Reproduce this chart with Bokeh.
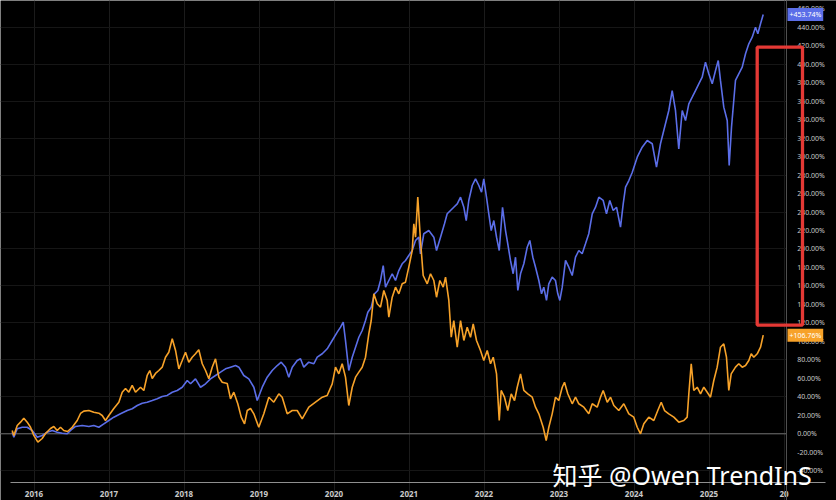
from bokeh.plotting import figure
from bokeh.models import (Range1d, FixedTicker, PrintfTickFormatter, Span, Label,
                          BoxAnnotation)
from bokeh.embed import file_html
from bokeh.resources import INLINE

# ---------------- data ----------------
blue_year = [2015.709, 2015.731, 2015.776, 2015.843, 2015.909, 2015.976, 2016.043, 2016.109, 2016.176, 2016.243,
             2016.309, 2016.376, 2016.443, 2016.487, 2016.553, 2016.643, 2016.731, 2016.797, 2016.864, 2016.931,
             2016.997, 2017.064, 2017.153, 2017.243, 2017.309, 2017.376, 2017.443, 2017.509, 2017.576, 2017.643,
             2017.709, 2017.776, 2017.843, 2017.909, 2017.976, 2018.043, 2018.087, 2018.153, 2018.220, 2018.287,
             2018.353, 2018.420, 2018.487, 2018.553, 2018.620, 2018.687, 2018.731, 2018.797, 2018.864, 2018.931,
             2018.976, 2019.043, 2019.109, 2019.176, 2019.243, 2019.296, 2019.353, 2019.397, 2019.443, 2019.509,
             2019.553, 2019.597, 2019.664, 2019.731, 2019.776, 2019.843, 2019.909, 2019.976, 2020.043, 2020.087,
             2020.123, 2020.153, 2020.197, 2020.243, 2020.287, 2020.331, 2020.376, 2020.420, 2020.451, 2020.496,
             2020.540, 2020.584, 2020.620, 2020.656, 2020.687, 2020.731, 2020.776, 2020.820, 2020.864, 2020.909,
             2020.953, 2020.997, 2021.043, 2021.087, 2021.131, 2021.153, 2021.197, 2021.264, 2021.331, 2021.367,
             2021.420, 2021.473, 2021.509, 2021.553, 2021.597, 2021.643, 2021.687, 2021.731, 2021.763, 2021.797,
             2021.843, 2021.887, 2021.931, 2021.967, 2021.997, 2022.033, 2022.064, 2022.096, 2022.131, 2022.167,
             2022.203, 2022.247, 2022.287, 2022.317, 2022.353, 2022.389, 2022.420, 2022.451, 2022.487, 2022.531,
             2022.576, 2022.611, 2022.651, 2022.687, 2022.731, 2022.767, 2022.797, 2022.833, 2022.864, 2022.909,
             2022.953, 2022.984, 2023.011, 2023.043, 2023.087, 2023.131, 2023.176, 2023.220, 2023.264, 2023.309,
             2023.353, 2023.397, 2023.443, 2023.487, 2023.531, 2023.589, 2023.633, 2023.677, 2023.723, 2023.767,
             2023.820, 2023.856, 2023.887, 2023.931, 2023.976, 2024.043, 2024.109, 2024.176, 2024.243, 2024.300,
             2024.353, 2024.397, 2024.464, 2024.509, 2024.553, 2024.597, 2024.643, 2024.687, 2024.731, 2024.776,
             2024.820, 2024.864, 2024.909, 2024.953, 2024.997, 2025.043, 2025.087, 2025.123, 2025.153, 2025.197,
             2025.243, 2025.269, 2025.300, 2025.353, 2025.397, 2025.443, 2025.487, 2025.531, 2025.576, 2025.620,
             2025.651, 2025.687, 2025.723]
blue_pct = [1.7, -3.7, 5.4, 7.1, 7.1, 3.6, -3.7, -1.8, 1.7, 3.6,
            1.7, 0.6, 0.0, 3.6, 7.9, 9.0, 7.9, 9.0, 7.1, 10.8,
            14.4, 18.0, 21.6, 25.2, 27.1, 30.6, 33.1, 34.2, 36.0, 37.9,
            40.4, 41.5, 45.0, 46.9, 50.4, 57.7, 54.1, 59.5, 50.4, 54.1,
            59.5, 63.1, 66.7, 70.3, 72.1, 73.9, 72.1, 63.1, 59.5, 50.4,
            36.0, 50.4, 61.3, 68.5, 73.9, 77.5, 72.1, 61.3, 72.1, 79.3,
            81.2, 72.1, 77.5, 75.8, 82.9, 86.6, 92.0, 101.0, 110.0, 115.4,
            120.8, 101.0, 68.5, 82.9, 93.7, 104.5, 111.8, 122.6, 131.6, 137.0,
            151.5, 155.1, 165.9, 182.1, 158.7, 165.9, 173.2, 165.9, 176.7, 184.0,
            187.6, 193.0, 198.4, 209.2, 212.8, 194.8, 216.5, 220.0, 212.8, 198.4,
            212.8, 227.3, 238.1, 241.7, 245.2, 248.9, 256.1, 245.2, 230.8, 252.5,
            268.7, 276.0, 268.7, 261.5, 276.0, 256.1, 238.1, 220.0, 230.8, 212.8,
            198.4, 245.2, 220.0, 205.6, 187.6, 173.2, 191.1, 155.1, 173.2, 184.0,
            201.9, 209.2, 191.1, 180.3, 165.9, 151.5, 158.7, 144.3, 162.3, 169.5,
            165.9, 151.5, 144.3, 158.7, 187.6, 180.3, 171.3, 191.1, 198.4, 194.8,
            205.6, 216.5, 238.1, 245.2, 256.1, 252.5, 238.1, 252.5, 241.7, 245.2,
            223.6, 248.9, 266.9, 274.1, 282.8, 299.4, 310.2, 317.4, 313.9, 288.5,
            313.9, 328.2, 349.9, 371.5, 349.9, 308.4, 349.9, 339.1, 357.1, 364.3,
            371.5, 378.8, 385.9, 402.2, 389.6, 378.8, 393.2, 404.0, 382.4, 353.5,
            339.1, 290.4, 331.8, 382.4, 389.6, 396.8, 411.3, 422.1, 429.2, 440.0,
            432.9, 443.7, 453.74]

orange_year = [2015.709, 2015.731, 2015.776, 2015.820, 2015.864, 2015.909, 2015.953, 2015.997, 2016.051, 2016.109,
               2016.153, 2016.220, 2016.264, 2016.309, 2016.353, 2016.397, 2016.447, 2016.509, 2016.576, 2016.620,
               2016.664, 2016.731, 2016.797, 2016.864, 2016.909, 2016.953, 2016.997, 2017.064, 2017.131, 2017.176,
               2017.220, 2017.264, 2017.309, 2017.353, 2017.420, 2017.464, 2017.509, 2017.544, 2017.576, 2017.620,
               2017.664, 2017.709, 2017.753, 2017.797, 2017.843, 2017.887, 2017.931, 2017.976, 2018.020, 2018.064,
               2018.109, 2018.153, 2018.197, 2018.243, 2018.287, 2018.331, 2018.376, 2018.420, 2018.464, 2018.509,
               2018.576, 2018.620, 2018.664, 2018.717, 2018.763, 2018.807, 2018.843, 2018.887, 2018.931, 2018.997,
               2019.064, 2019.131, 2019.197, 2019.264, 2019.309, 2019.376, 2019.443, 2019.509, 2019.576, 2019.664,
               2019.753, 2019.843, 2019.909, 2019.976, 2020.020, 2020.064, 2020.109, 2020.153, 2020.197, 2020.243,
               2020.287, 2020.331, 2020.376, 2020.420, 2020.464, 2020.496, 2020.531, 2020.576, 2020.620, 2020.664,
               2020.709, 2020.731, 2020.776, 2020.820, 2020.864, 2020.909, 2020.953, 2020.997, 2021.043, 2021.064,
               2021.087, 2021.117, 2021.153, 2021.189, 2021.243, 2021.287, 2021.331, 2021.367, 2021.411, 2021.456,
               2021.487, 2021.531, 2021.563, 2021.597, 2021.643, 2021.687, 2021.731, 2021.776, 2021.820, 2021.856,
               2021.900, 2021.953, 2021.997, 2022.043, 2022.087, 2022.123, 2022.167, 2022.203, 2022.229, 2022.273,
               2022.317, 2022.363, 2022.407, 2022.443, 2022.487, 2022.531, 2022.584, 2022.643, 2022.687, 2022.731,
               2022.789, 2022.829, 2022.864, 2022.909, 2022.953, 2022.997, 2023.043, 2023.073, 2023.117, 2023.176,
               2023.220, 2023.264, 2023.331, 2023.397, 2023.443, 2023.509, 2023.553, 2023.589, 2023.643, 2023.687,
               2023.731, 2023.797, 2023.864, 2023.931, 2023.997, 2024.043, 2024.087, 2024.131, 2024.197, 2024.264,
               2024.317, 2024.363, 2024.407, 2024.464, 2024.531, 2024.597, 2024.664, 2024.709, 2024.731, 2024.763,
               2024.797, 2024.843, 2024.887, 2024.931, 2024.976, 2025.020, 2025.064, 2025.109, 2025.153, 2025.197,
               2025.233, 2025.264, 2025.296, 2025.353, 2025.397, 2025.443, 2025.487, 2025.531, 2025.563, 2025.597,
               2025.643, 2025.687, 2025.723]
orange_pct = [3.6, -1.8, 9.0, 12.6, 16.9, 12.6, 7.1, -1.8, -9.1, -5.1,
              0.3, 5.7, 7.9, 3.6, 7.1, 3.6, 2.5, 7.1, 14.4, 22.0,
              24.5, 25.2, 23.4, 22.3, 19.8, 14.4, 19.8, 27.4, 34.2, 45.0,
              49.0, 45.0, 52.3, 45.0, 50.4, 46.9, 63.1, 68.5, 59.8, 65.3,
              68.5, 72.1, 82.9, 88.3, 102.8, 90.2, 70.3, 79.3, 88.3, 77.5,
              82.9, 86.6, 90.9, 75.8, 68.5, 59.5, 72.1, 81.2, 61.3, 55.8,
              54.4, 37.9, 45.0, 32.5, 18.0, 10.8, 25.2, 27.4, 21.6, 7.1,
              21.6, 39.6, 34.2, 43.3, 39.6, 21.6, 25.2, 25.2, 16.2, 28.8,
              34.2, 39.6, 41.5, 54.1, 72.1, 64.9, 75.8, 61.3, 30.6, 50.4,
              61.3, 66.7, 72.1, 82.9, 108.2, 122.6, 151.5, 140.7, 137.0, 155.1,
              144.3, 126.2, 147.8, 158.7, 151.5, 162.3, 164.1, 180.3, 198.4, 227.3,
              212.8, 256.1, 209.2, 171.3, 162.3, 173.2, 165.9, 147.8, 165.9, 158.7,
              169.5, 144.3, 104.5, 122.6, 93.7, 122.6, 101.0, 115.4, 104.5, 119.0,
              101.0, 90.2, 79.3, 90.2, 75.8, 82.9, 64.9, 14.4, 46.9, 39.6,
              25.2, 43.3, 36.0, 50.4, 64.9, 46.9, 43.3, 39.6, 28.8, 21.6,
              7.1, -7.3, 7.1, 21.6, 39.6, 36.0, 50.4, 55.8, 43.3, 32.5,
              39.6, 32.5, 28.8, 21.6, 32.5, 28.8, 39.6, 46.9, 34.2, 39.6,
              30.6, 25.2, 32.5, 21.6, 18.0, 7.1, 0.0, 10.8, 18.0, 14.4,
              25.2, 34.2, 25.2, 21.6, 18.0, 12.6, 14.4, 18.0, 43.3, 75.8,
              46.9, 50.4, 43.3, 50.4, 45.0, 39.6, 57.7, 72.1, 93.7, 97.4,
              82.9, 46.9, 64.9, 72.1, 75.8, 72.1, 73.9, 79.3, 86.6, 82.9,
              86.6, 93.7, 106.76]

year_ticks = [2016, 2017, 2018, 2019, 2020, 2021, 2022, 2023, 2024, 2025, 2026]
year_labels = ["2016", "2017", "2018", "2019", "2020", "2021", "2022", "2023", "2024", "2025", "20"]
pct_ticks = list(range(-40, 461, 20))
pct_grid = list(range(-40, 461, 40))
highlight_top, highlight_bottom = 418.4, 117.7
watermark = "知乎 @Owen TrendInS"

BLUE = "#5b6ee8"
ORANGE = "#f7a229"
BG = "#000000"
TXT = "#c9c9c9"

# visible window of the chart (time axis in years, price axis in %)
X0, X1 = 2015.553, 2026.700
Y0, Y1 = -72.19, 468.94
PRICE_AXIS_AT = 2026.029     # where the price scale begins
TIME_AXIS_AT = -53.0         # where the time scale sits

# ---------------- figure ----------------
p = figure(frame_width=836, frame_height=500, title=None,
           x_range=Range1d(X0, X1), y_range=Range1d(Y0, Y1),
           y_axis_location="right", output_backend="svg", toolbar_location=None,
           min_border=0, background_fill_color=BG, border_fill_color=BG,
           outline_line_color=None)

# time axis
xa = p.xaxis[0]
xa.fixed_location = TIME_AXIS_AT
xa.bounds = (2015.69, 2026.55)
xa.ticker = FixedTicker(ticks=year_ticks)
xa.major_label_overrides = {t: l for t, l in zip(year_ticks, year_labels)}
xa.axis_line_color = "#8f8f8f"
xa.major_tick_line_color = None
xa.minor_tick_line_color = None
xa.major_label_text_color = TXT
xa.major_label_text_font = "Noto Sans"
xa.major_label_text_font_size = "8px"
xa.major_label_text_font_style = "bold"
xa.major_label_standoff = 2

# price axis
ya = p.yaxis[0]
ya.fixed_location = PRICE_AXIS_AT
ya.ticker = FixedTicker(ticks=pct_ticks)
ya.formatter = PrintfTickFormatter(format="%.2f%%")
ya.axis_line_color = "#505050"
ya.major_tick_line_color = None
ya.minor_tick_line_color = None
ya.major_label_text_color = TXT
ya.major_label_text_font = "Noto Sans"
ya.major_label_text_font_size = "7px"
ya.major_label_standoff = 5

p.xgrid.ticker = FixedTicker(ticks=year_ticks)
p.ygrid.ticker = FixedTicker(ticks=pct_grid)
p.xgrid.grid_line_color = "#1b1b1b"
p.ygrid.grid_line_color = "#161616"

# zero line
p.add_layout(Span(location=0, dimension="width", line_color="#6e6e6e", line_width=1,
                  level="underlay"))

# mask the price-scale area (hides grid and zero line there)
p.add_layout(BoxAnnotation(left=PRICE_AXIS_AT, fill_color=BG, fill_alpha=1, line_alpha=0,
                           level="glyph"))

# series
p.line(x=blue_year, y=blue_pct, line_color=BLUE, line_width=1.6)
p.line(x=orange_year, y=orange_pct, line_color=ORANGE, line_width=1.6)

# last-value tags on the price axis
p.add_layout(Label(x=787, y=blue_pct[-1], x_units="screen", y_units="data",
                   text=f"+{blue_pct[-1]:.2f}%", text_color="white", text_font="Noto Sans",
                   text_font_size="7px", text_baseline="middle",
                   background_fill_color=BLUE, padding=2))
p.add_layout(Label(x=787, y=orange_pct[-1], x_units="screen", y_units="data",
                   text=f"+{orange_pct[-1]:.2f}%", text_color="white", text_font="Noto Sans",
                   text_font_size="7px", text_baseline="middle",
                   background_fill_color=ORANGE, padding=2))

# red highlight box
p.add_layout(BoxAnnotation(left=756.7, right=802, left_units="screen", right_units="screen",
                           top=highlight_top, bottom=highlight_bottom,
                           fill_alpha=0, line_color="#e53935", line_alpha=1, line_width=3.3))

# watermark
p.add_layout(Label(x=552, y=25.5, x_units="screen", y_units="screen", text=watermark,
                   text_color="white", text_font="Noto Sans, Noto Sans CJK SC",
                   text_font_size="25px", text_baseline="alphabetic"))

open("out.html", "w").write(file_html(p, INLINE))
